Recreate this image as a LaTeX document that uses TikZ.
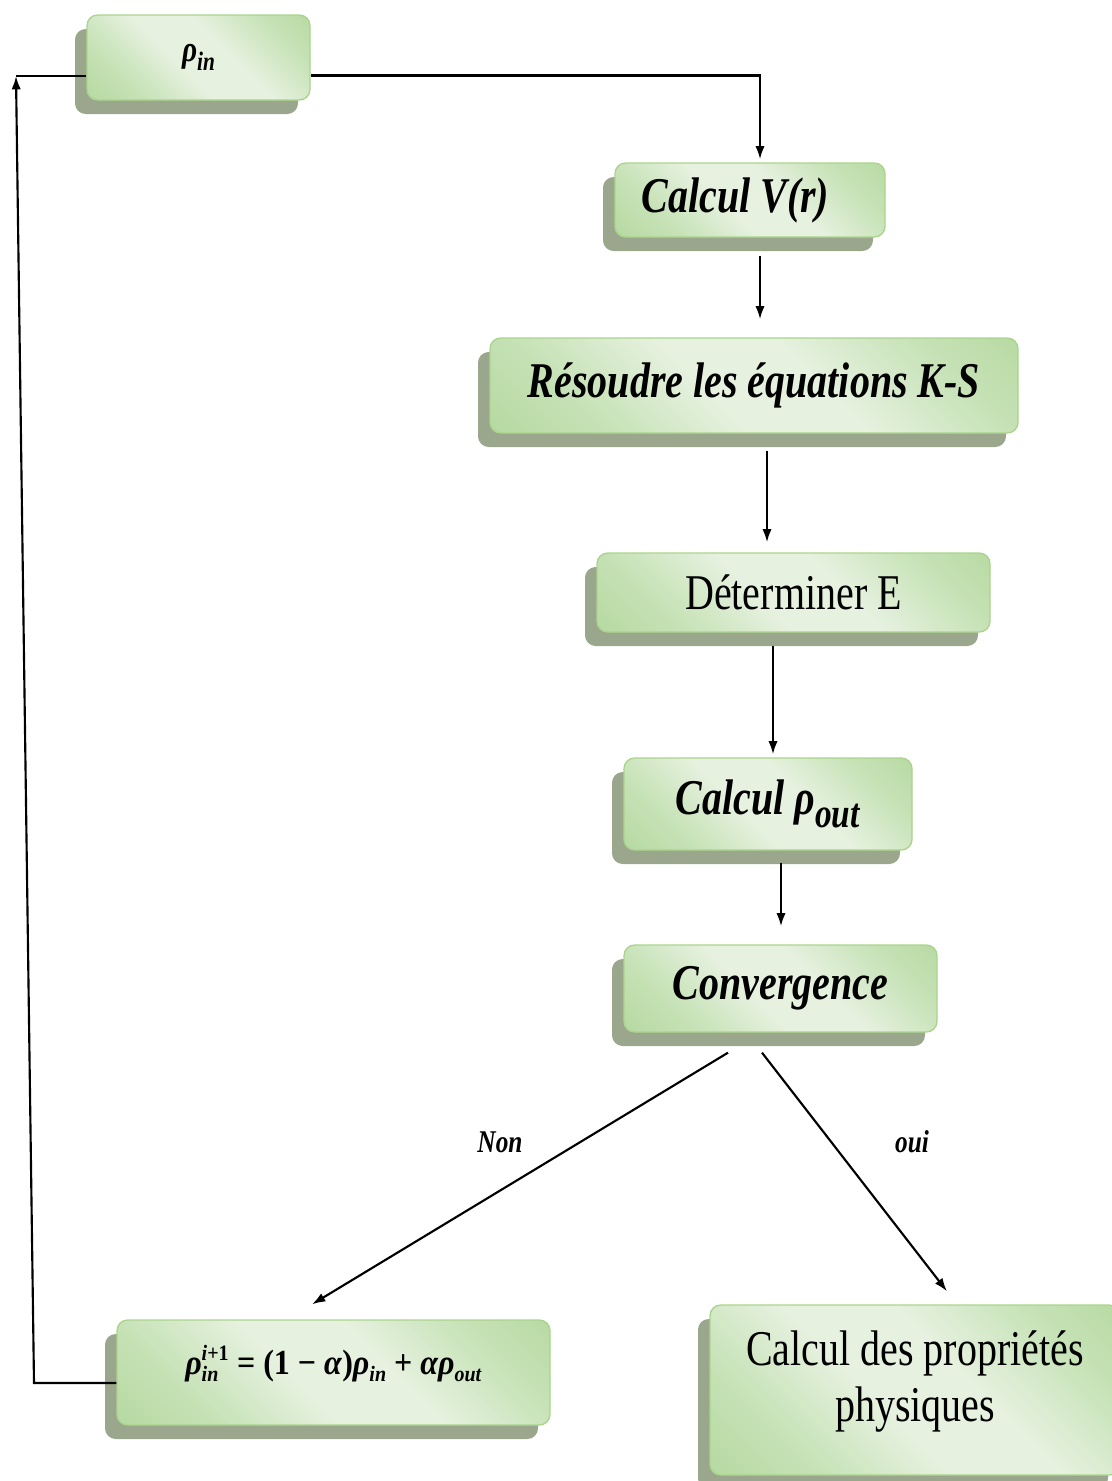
\documentclass[tikz,border=0pt]{standalone}
\usepackage{fontspec}
\setmainfont{Liberation Serif}
\usetikzlibrary{arrows.meta,shadows,calc}
\definecolor{gdark}{RGB}{165,207,138}
\definecolor{gmid}{RGB}{198,226,182}
\definecolor{glight}{RGB}{230,241,223}
\definecolor{gedge}{RGB}{170,212,140}
\definecolor{shadowc}{RGB}{154,167,140}
\pgfdeclarehorizontalshading{greenband}{100bp}{color(0bp)=(gdark); color(28bp)=(gmid); color(44bp)=(glight); color(58bp)=(glight); color(74bp)=(gmid); color(100bp)=(gdark)}
\newcommand\bi[1]{\textbf{\textit{#1}}}
\newcommand\vs[1]{\scalebox{1}[1.25]{#1}}
\newcommand\sm[1]{{\fontsize{15pt}{16pt}\selectfont\bi{#1}}}
\def\pxu{0.75pt}
\tikzset{
  box/.style={draw=gedge, line width=1pt, rounded corners=8pt, shading=greenband, shading angle=45,
    drop shadow={shadow xshift=-9pt, shadow yshift=-10.5pt, fill=shadowc, opacity=1},
    inner sep=0pt, align=center, font=\fontsize{30pt}{34pt}\selectfont},
  arr/.style={line width=1.6pt, -{Latex[length=10pt,width=7pt]}},
  ln/.style={line width=1.6pt},
  lab/.style={font=\fontsize{19pt}{22pt}\selectfont\bfseries\itshape}
}
\begin{document}
\begin{tikzpicture}[x=0.75pt,y=-0.75pt]
\useasboundingbox (0,0) rectangle (1111,1481);
\node[box, minimum width=223*\pxu, minimum height=85*\pxu, font=\fontsize{22pt}{24pt}\selectfont] (rho) at (198.5,57.5) {\vs{\bi{ρ}\raisebox{-0.25em}{\fontsize{16pt}{18pt}\selectfont\bi{in}}}};
\node[box, minimum width=270*\pxu, minimum height=74*\pxu] (vr) at (750,200) {\hspace*{-22pt}\raisebox{-4pt}{\vs{\bi{Calcul V(r)}}}};
\node[box, minimum width=528*\pxu, minimum height=95*\pxu] (ks) at (754,385.5) {\vs{\bi{Résoudre les équations K-S}}};
\node[box, minimum width=393*\pxu, minimum height=79*\pxu] (det) at (793.5,592.5) {\raisebox{-2pt}{\vs{Déterminer E}}};
\node[box, minimum width=288*\pxu, minimum height=92*\pxu] (out) at (768,804) {\raisebox{-4pt}{\vs{\bi{Calcul ρ}\raisebox{-0.25em}{\fontsize{25pt}{27pt}\selectfont\bi{out}}}}};
\node[box, minimum width=313*\pxu, minimum height=87*\pxu] (conv) at (780.5,988.5) {\raisebox{-3pt}{\vs{\bi{Convergence}}}};
\node[box, minimum width=433*\pxu, minimum height=105*\pxu, font=\fontsize{24pt}{26pt}\selectfont] (form) at (333.5,1372.5) {\raisebox{19pt}{\scalebox{1}[1.1]{\bi{ρ}\raisebox{-5pt}{\makebox[0pt][l]{\raisebox{14pt}{\sm{i}{\fontsize{15pt}{16pt}\selectfont\textbf{+1}}}}\sm{in}}\hspace{8pt} \textbf{= (1 − }\bi{α}\textbf{)}\bi{ρ}\raisebox{-5pt}{\sm{in}} \textbf{+ }\bi{αρ}\raisebox{-5pt}{\sm{out}}}}};
\node[box, minimum width=410*\pxu, minimum height=170*\pxu] (prop) at (915,1390) {\begin{tabular}{@{}c@{}}\vs{Calcul des propriétés}\\[6pt]\vs{physiques}\\[11pt]\end{tabular}};
\node[lab] (non) at (500,1142) {\vs{Non}};
\node[lab] (oui) at (912,1142) {\vs{oui}};
\draw[arr] ($(rho.east)+(0,18)$) -| ($(vr.north)+(10,-3)$);
\draw[arr] ($(vr.south)+(10,18)$) -- ($(ks.north)+(6,-18)$);
\draw[arr] ($(ks.south)+(13,17)$) -- ($(det.north)+(-26.5,-10)$);
\draw[arr] ($(det.south)+(-20.5,13)$) -- ($(out.north)+(5,-3)$);
\draw[arr] ($(out.south)+(13,12)$) -- ($(conv.north)+(0.5,-18)$);
\draw[arr] ($(conv.south)+(-52.5,20)$) -- ($(form.north)+(-21.5,-15)$);
\draw[arr] ($(conv.south)+(-18.5,20)$) -- ($(prop.north)+(32,-13)$);
\coordinate (bl) at (34,1383);
\coordinate (tl) at (16,76);
\draw[arr] ($(form.west)+(0,10.5)$) -- (bl) -- (tl);
\draw[ln] (tl) -- ($(rho.west)+(0,18.5)$);
\end{tikzpicture}
\end{document}
